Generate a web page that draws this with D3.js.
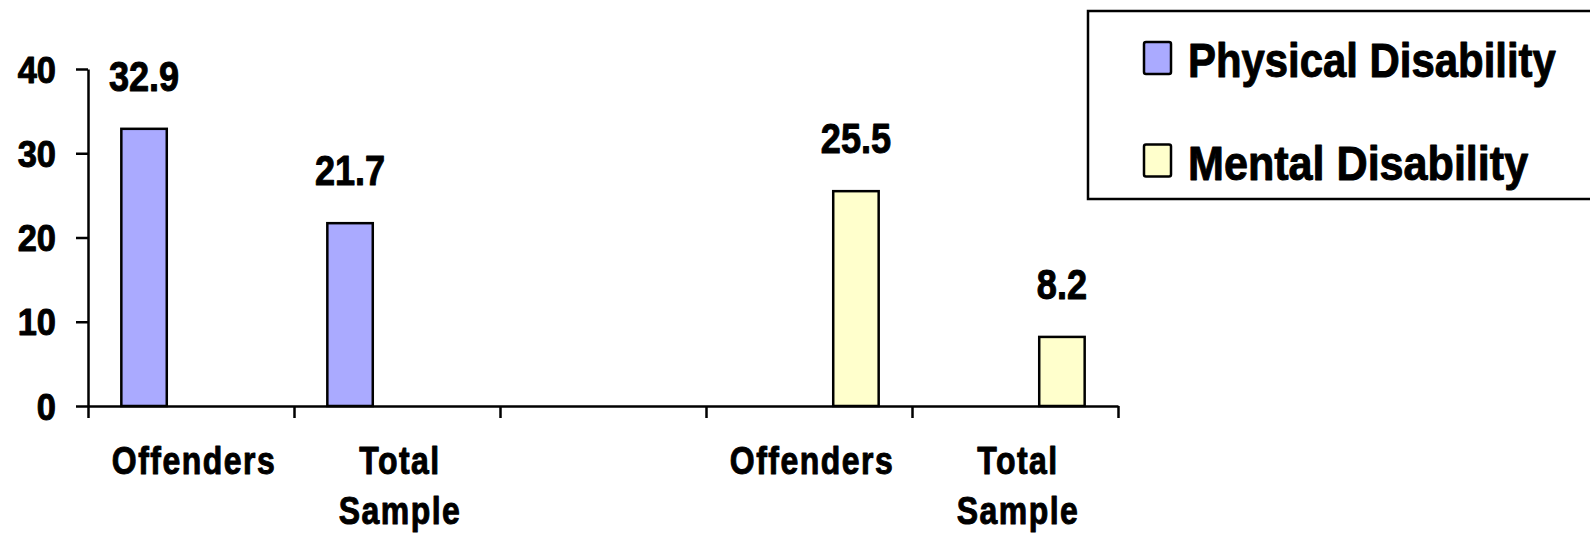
<!DOCTYPE html>
<html>
<head>
<meta charset="utf-8">
<script src="https://cdn.jsdelivr.net/npm/d3@7"></script>
<style>
  html, body { margin: 0; padding: 0; background: #fff; overflow: hidden; }
  svg { display: block; }
  text { font-family: "Liberation Sans", Arial, sans-serif; font-weight: bold; fill: #000; stroke: #000; stroke-width: 1px; stroke-linejoin: round; }
</style>
</head>
<body>
<svg id="chart" width="1590" height="534"></svg>
<script>
const categories = ["Offenders", "Total Sample", "", "Offenders", "Total Sample"];
const seriesNames = ["Physical Disability", "Mental Disability"];
const physicalValues = [32.9, 21.7, null, null, null];
const mentalValues = [null, null, null, 25.5, 8.2];
const yTicks = [0, 10, 20, 30, 40];
const colors = ["#AAAAFF", "#FFFFCC"];

const svg = d3.select("#chart");
const plot = { left: 88, right: 1118, top: 69, bottom: 406 };

const x = d3.scaleBand().domain(d3.range(categories.length)).range([plot.left, plot.right]).padding(0);
const xInner = d3.scaleBand().domain([0, 1]).range([0, x.bandwidth()]).paddingInner(0.516).paddingOuter(0.355);
const y = d3.scaleLinear().domain([0, 40]).range([plot.bottom, plot.top]);

// helper: condensed text via horizontal scaling
function condText(parent, px, py, sx, size, spacing, anchor, lines, lineH) {
  const g = parent.append("g").attr("transform", `translate(${px},${py}) scale(${sx},1)`);
  const t = g.append("text").attr("text-anchor", anchor).attr("font-size", size).attr("letter-spacing", spacing);
  lines.forEach((w, k) => t.append("tspan").attr("x", 0).attr("y", k * lineH).text(w));
  return g;
}

// bars
const series = [physicalValues, mentalValues];
series.forEach((vals, si) => {
  const data = vals.map((v, i) => ({ i, v })).filter(d => d.v !== null);
  svg.append("g").selectAll("rect").data(data).join("rect")
    .attr("x", d => x(d.i) + xInner(si))
    .attr("y", d => y(d.v))
    .attr("width", xInner.bandwidth())
    .attr("height", d => y(0) - y(d.v))
    .attr("fill", colors[si])
    .attr("stroke", "#000")
    .attr("stroke-width", 2.5);
  const lg = svg.append("g");
  data.forEach(d => {
    condText(lg, x(d.i) + xInner(si) + xInner.bandwidth() / 2, y(d.v) - 38, 0.86, 42, 0, "middle", [d.v.toFixed(1)], 0);
  });
});

// y axis
const yAxis = svg.append("g").attr("transform", `translate(${plot.left},0)`)
  .call(d3.axisLeft(y).tickValues(yTicks).tickSize(12).tickSizeOuter(0).tickPadding(0).tickFormat(""));
yAxis.select(".domain").attr("stroke", "#000").attr("stroke-width", 2.5);
yAxis.selectAll(".tick line").attr("stroke", "#000").attr("stroke-width", 2.5);
yAxis.selectAll(".tick").each(function(d) {
  const g = d3.select(this).append("g").attr("transform", "translate(-32,13) scale(0.93,1)");
  g.append("text").attr("text-anchor", "end").attr("font-size", 37).text(d);
});

// x axis with boundary ticks
const xb = d3.scaleLinear().domain([0, categories.length]).range([plot.left, plot.right]);
const xAxis = svg.append("g").attr("transform", `translate(0,${plot.bottom})`)
  .call(d3.axisBottom(xb).tickValues(d3.range(categories.length + 1)).tickFormat("").tickSize(12).tickSizeOuter(0));
xAxis.select(".domain").attr("stroke", "#000").attr("stroke-width", 2.5);
xAxis.selectAll(".tick line").attr("stroke", "#000").attr("stroke-width", 2.5);

// category labels
const catG = svg.append("g");
categories.forEach((c, i) => {
  if (!c) return;
  condText(catG, x(i) + x.bandwidth() / 2 + 3, 474, 0.82, 39, 1.8, "middle", c.split(" "), 50);
});

// legend
const lg = svg.append("g");
lg.append("rect").attr("x", 1088).attr("y", 11).attr("width", 520).attr("height", 188)
  .attr("fill", "#fff").attr("stroke", "#000").attr("stroke-width", 2.5);
seriesNames.forEach((name, i) => {
  const cy = 58 + i * 102.5;
  lg.append("rect").attr("x", 1144).attr("y", cy - 16).attr("width", 27).attr("height", 32)
    .attr("rx", 2).attr("fill", colors[i]).attr("stroke", "#000").attr("stroke-width", 2.5);
  condText(lg, 1188, cy + 19, i === 0 ? 0.855 : 0.88, 49, 0, "start", [name], 0);
});
</script>
</body>
</html>
